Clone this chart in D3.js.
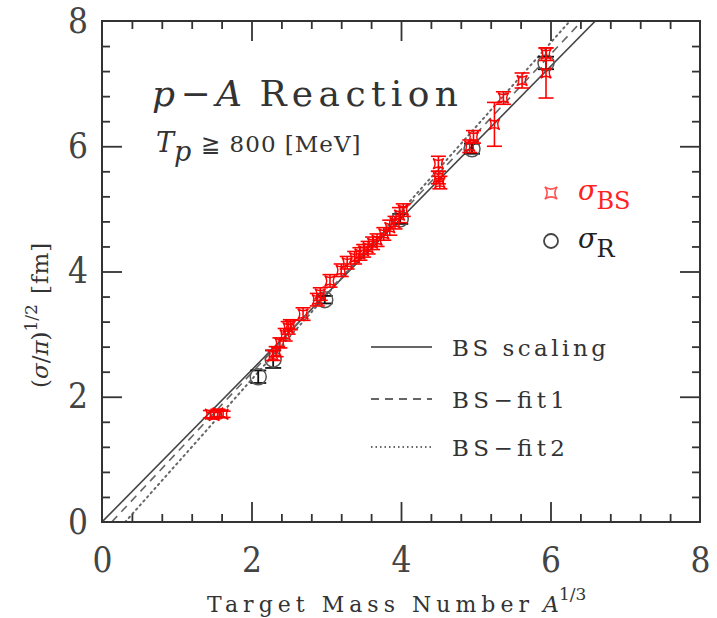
<!DOCTYPE html>
<html lang="en">
<head>
<meta charset="UTF-8">
<title>p-A Reaction</title>
<script src="https://d3js.org/d3.v7.min.js"></script>
<style>
  body { margin: 0; background: #fff; }
  svg text { font-family: "DejaVu Serif", serif; }
</style>
</head>
<body>
<svg width="717" height="618"></svg>
<script>
// sigma_BS points: [A^(1/3), (sigma/pi)^(1/2), error]
const bsX   = [1.45, 1.50, 1.55, 1.62, 2.29, 2.33, 2.38, 2.45, 2.49, 2.52, 2.69, 2.88, 2.92, 3.05, 3.20, 3.28, 3.38, 3.45, 3.50, 3.56, 3.62, 3.68, 3.77, 3.85, 3.92, 3.98, 4.03, 4.50, 4.50, 4.52, 4.92, 4.97, 5.25, 5.37, 5.62, 5.94, 5.94];
const bsY   = [1.72, 1.70, 1.74, 1.72, 2.66, 2.72, 2.86, 2.99, 3.10, 3.15, 3.32, 3.55, 3.64, 3.85, 4.02, 4.14, 4.22, 4.28, 4.33, 4.38, 4.45, 4.50, 4.60, 4.70, 4.78, 4.90, 4.98, 5.72, 5.50, 5.42, 6.00, 6.15, 6.35, 6.77, 7.05, 7.47, 7.17];
const bsErr = [0.06, 0.05, 0.06, 0.05, 0.08, 0.08, 0.08, 0.10, 0.10, 0.08, 0.10, 0.10, 0.10, 0.10, 0.10, 0.10, 0.10, 0.10, 0.10, 0.10, 0.10, 0.10, 0.10, 0.12, 0.10, 0.12, 0.10, 0.12, 0.10, 0.10, 0.10, 0.10, 0.35, 0.10, 0.12, 0.10, 0.40];

// sigma_R points
const rX   = [2.09, 2.29, 2.98, 3.99, 4.95, 5.94];
const rY   = [2.32, 2.60, 3.55, 4.84, 5.96, 7.33];
const rErr = [0.10, 0.14, 0.06, 0.08, 0.08, 0.10];

// fit lines, end points
const lines = [
  { name: "BS scaling", pts: [[0, 0], [6.6, 8]], dash: null },
  { name: "BS\u2212fit1", pts: [[0.13, 0], [6.42, 8]], dash: "8,6" },
  { name: "BS\u2212fit2", pts: [[0.31, 0], [6.26, 8]], dash: "1.5,4" }
];

const majorTicks = [0, 2, 4, 6, 8];
const minorTicks = d3.range(0, 20).map(i => +(i * 0.4).toFixed(1)).filter(v => v % 2 !== 0);

const svg = d3.select("svg");
const x = d3.scaleLinear().domain([0, 8]).range([102, 700]);
const y = d3.scaleLinear().domain([0, 8]).range([522, 21]);
const ink = "#333";

const bs = bsX.map((v, i) => ({ x: v, y: bsY[i], e: bsErr[i] }));
const rr = rX.map((v, i) => ({ x: v, y: rY[i], e: rErr[i] }));

// clip for fit lines
svg.append("clipPath").attr("id", "plot")
  .append("rect").attr("x", x(0)).attr("y", y(8))
  .attr("width", x(8) - x(0)).attr("height", y(0) - y(8));

// fit lines
const line = d3.line().x(d => x(d[0])).y(d => y(d[1]));
lines.forEach((l, i) => {
  svg.append("path")
    .datum(l.pts)
    .attr("clip-path", "url(#plot)")
    .attr("fill", "none")
    .attr("stroke", i === 0 ? "#444" : "#666")
    .attr("stroke-width", i === 2 ? 2 : 1.6)
    .attr("stroke-linecap", i === 2 ? "round" : "butt")
    .attr("stroke-dasharray", l.dash)
    .attr("d", line);
});

// four-pointed star marker
const astroid = {
  draw(ctx, size) {
    const r = Math.sqrt(size) / 2;
    const k = r * 0.25;
    ctx.moveTo(-r, -r);
    ctx.quadraticCurveTo(-k, 0, -r, r);
    ctx.quadraticCurveTo(0, k, r, r);
    ctx.quadraticCurveTo(k, 0, r, -r);
    ctx.quadraticCurveTo(0, -k, -r, -r);
    ctx.closePath();
  }
};

function errorBars(data, color, cap, width) {
  const g = svg.append("g").attr("stroke", color).attr("stroke-width", width).attr("fill", "none");
  g.selectAll(".v").data(data).join("line")
    .attr("x1", d => x(d.x)).attr("x2", d => x(d.x))
    .attr("y1", d => y(d.y - d.e)).attr("y2", d => y(d.y + d.e));
  g.selectAll(".t").data(data).join("line")
    .attr("x1", d => x(d.x) - cap).attr("x2", d => x(d.x) + cap)
    .attr("y1", d => y(d.y + d.e)).attr("y2", d => y(d.y + d.e));
  g.selectAll(".b").data(data).join("line")
    .attr("x1", d => x(d.x) - cap).attr("x2", d => x(d.x) + cap)
    .attr("y1", d => y(d.y - d.e)).attr("y2", d => y(d.y - d.e));
  return g;
}

// sigma_R
errorBars(rr, "#111", 8, 1.8);
svg.append("g").selectAll("circle").data(rr).join("circle")
  .attr("cx", d => x(d.x)).attr("cy", d => y(d.y)).attr("r", 8)
  .attr("fill", "none").attr("stroke", "#555").attr("stroke-width", 1.5);

// sigma_BS
errorBars(bs, "#ff0000", 7.5, 1.6);
svg.append("g").selectAll("path").data(bs).join("path")
  .attr("transform", d => `translate(${x(d.x)},${y(d.y)})`)
  .attr("d", d3.symbol(astroid, 110))
  .attr("fill", "none").attr("stroke", "#ff0000").attr("stroke-width", 1.4);

// axes: ticks inside on all four sides
const bottom = svg.append("g").attr("transform", `translate(0,${y(0)})`)
  .call(d3.axisBottom(x).tickValues(majorTicks).tickSize(-20).tickPadding(25).tickFormat(d3.format("d")));
svg.append("g").attr("transform", `translate(0,${y(0)})`)
  .call(d3.axisBottom(x).tickValues(minorTicks).tickSize(-8).tickFormat(""));
svg.append("g").attr("transform", `translate(0,${y(8)})`)
  .call(d3.axisTop(x).tickValues(majorTicks).tickSize(-20).tickFormat(""));
svg.append("g").attr("transform", `translate(0,${y(8)})`)
  .call(d3.axisTop(x).tickValues(minorTicks).tickSize(-8).tickFormat(""));
const left = svg.append("g").attr("transform", `translate(${x(0)},0)`)
  .call(d3.axisLeft(y).tickValues(majorTicks).tickSize(-20).tickPadding(14).tickFormat(d3.format("d")));
svg.append("g").attr("transform", `translate(${x(0)},0)`)
  .call(d3.axisLeft(y).tickValues(minorTicks).tickSize(-8).tickFormat(""));
svg.append("g").attr("transform", `translate(${x(8)},0)`)
  .call(d3.axisRight(y).tickValues(majorTicks).tickSize(-20).tickFormat(""));
svg.append("g").attr("transform", `translate(${x(8)},0)`)
  .call(d3.axisRight(y).tickValues(minorTicks).tickSize(-8).tickFormat(""));

svg.selectAll(".domain").remove();
svg.selectAll(".tick line").attr("stroke", ink).attr("stroke-width", 1.8);
svg.selectAll(".tick text").attr("font-size", 35).attr("fill", "#444")
  .attr("transform", "scale(0.88,1)");
bottom.selectAll(".tick text").attr("dy", "0.71em").attr("transform", null)
  .attr("textLength", 20).attr("lengthAdjust", "spacingAndGlyphs");
left.selectAll(".tick text").attr("transform", null)
  .attr("textLength", 20).attr("lengthAdjust", "spacingAndGlyphs");
// the 0 and 8 ticks sit on the frame
svg.selectAll(".tick").filter(d => d === 0 || d === 8).select("line").remove();

// frame
svg.append("rect")
  .attr("x", x(0)).attr("y", y(8))
  .attr("width", x(8) - x(0)).attr("height", y(0) - y(8))
  .attr("fill", "none").attr("stroke", ink).attr("stroke-width", 2);

// titles
const title = svg.append("text").attr("x", 152).attr("y", 106)
  .attr("font-size", 36).attr("fill", "#333")
  .attr("textLength", 306).attr("lengthAdjust", "spacing");
title.append("tspan").attr("font-style", "italic").text("p");
title.append("tspan").text("\u2212");
title.append("tspan").attr("font-style", "italic").text("A");
title.append("tspan").attr("dx", 12).text("Reaction");

const tp = svg.append("text").attr("x", 156).attr("y", 152)
  .attr("font-size", 23).attr("fill", "#333");
tp.append("tspan").attr("font-style", "italic").attr("font-size", 27).text("T");
tp.append("tspan").attr("font-style", "italic").attr("dy", 9).attr("font-size", 27).text("p");
tp.append("tspan").attr("dy", -9).attr("dx", 10).attr("letter-spacing", 1).text("\u2267 800 [MeV]");

// axis labels
const xl = svg.append("text").attr("x", 207).attr("y", 612)
  .attr("font-size", 22).attr("fill", "#333");
xl.append("tspan").attr("textLength", 322).attr("lengthAdjust", "spacing").text("Target Mass Number");
xl.append("tspan").attr("dx", 9).attr("font-style", "italic").text("A");
xl.append("tspan").attr("dy", -12).attr("font-size", 17).text("1/3");

const yl = svg.append("text")
  .attr("transform", "translate(48,388) rotate(-90)")
  .attr("font-size", 23).attr("fill", "#333");
yl.append("tspan").text("(");
yl.append("tspan").attr("font-style", "italic").text("\u03c3");
yl.append("tspan").text("/");
yl.append("tspan").attr("font-style", "italic").text("\u03c0");
yl.append("tspan").text(")");
yl.append("tspan").attr("dy", -11).attr("font-size", 17).text("1/2");
yl.append("tspan").attr("dy", 11).attr("dx", 10).attr("letter-spacing", 1).text("[fm]");

// legend for data
svg.append("path").attr("transform", "translate(551,193)")
  .attr("d", d3.symbol(astroid, 150))
  .attr("fill", "none").attr("stroke", "#ff5555").attr("stroke-width", 1.6);
const lb = svg.append("text").attr("x", 578).attr("y", 200).attr("font-size", 27).attr("fill", "#ff2222");
lb.append("tspan").attr("font-style", "italic").text("\u03c3");
lb.append("tspan").attr("dy", 9).attr("font-size", 24).text("BS");

svg.append("circle").attr("cx", 551).attr("cy", 241).attr("r", 7)
  .attr("fill", "none").attr("stroke", "#444").attr("stroke-width", 1.8);
const lr = svg.append("text").attr("x", 578).attr("y", 248).attr("font-size", 27).attr("fill", "#222");
lr.append("tspan").attr("font-style", "italic").text("\u03c3");
lr.append("tspan").attr("dy", 9).attr("font-size", 24).text("R");

// legend for lines
const legY = [347, 399, 447];
lines.forEach((l, i) => {
  svg.append("line")
    .attr("x1", 371).attr("x2", 432).attr("y1", legY[i]).attr("y2", legY[i])
    .attr("stroke", "#333").attr("stroke-width", 1.6)
    .attr("stroke-dasharray", i === 1 ? "8,6" : i === 2 ? "1.5,3" : null);
  svg.append("text").attr("x", 452).attr("y", legY[i] + 9)
    .attr("font-size", 23).attr("fill", "#333")
    .attr("textLength", i === 0 ? 154 : 113).attr("lengthAdjust", "spacing")
    .text(l.name);
});
</script>
</body>
</html>
